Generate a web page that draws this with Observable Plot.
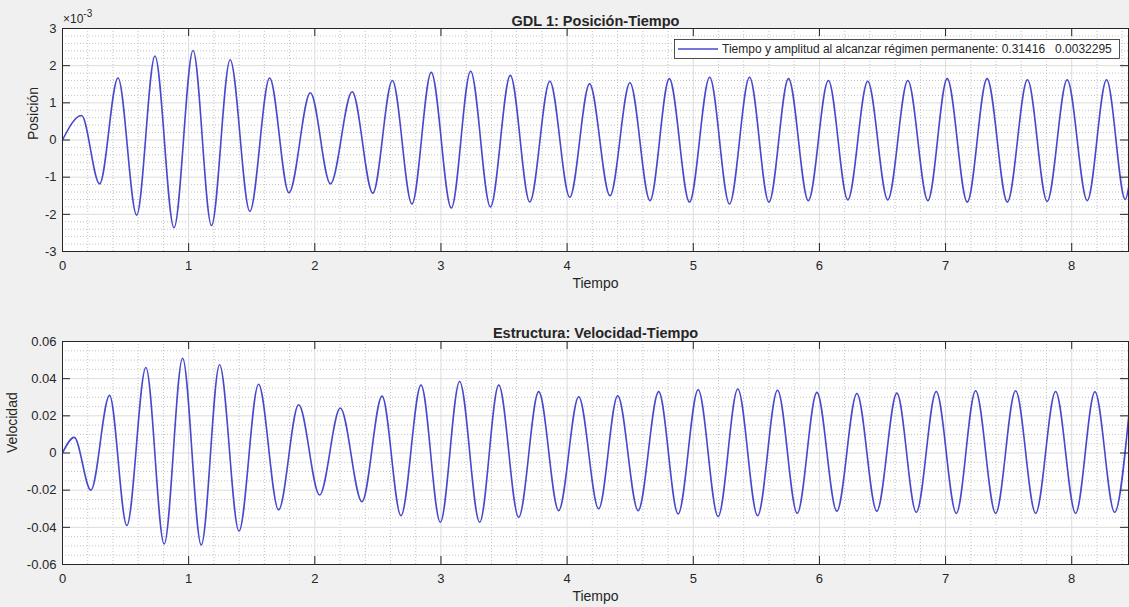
<!DOCTYPE html>
<html><head><meta charset="utf-8">
<script src="https://cdn.jsdelivr.net/npm/d3@7"></script>
<script src="https://cdn.jsdelivr.net/npm/@observablehq/plot@0.6"></script>
<style>
html,body{margin:0;padding:0;background:#f0f0f0;}
#chart{width:1129px;height:607px;position:relative;font-family:"Liberation Sans",Arial,sans-serif;overflow:hidden;}
#chart svg{display:block;}
</style></head><body><div id="chart"></div>
<script>
// ---- Data (extrema of each oscillation) ----
// Position (units of 1e-3)
const posT = [0, 0.151, 0.294, 0.44, 0.588, 0.733, 0.884, 1.035, 1.181, 1.329, 1.485, 1.642, 1.795, 1.965, 2.124, 2.296, 2.46, 2.615, 2.77, 2.923, 3.082, 3.235, 3.392, 3.55, 3.704, 3.863, 4.021, 4.178, 4.34, 4.498, 4.657, 4.81, 4.97, 5.13, 5.287, 5.446, 5.6, 5.755, 5.912, 6.071, 6.225, 6.383, 6.542, 6.701, 6.86, 7.013, 7.172, 7.329, 7.49, 7.649, 7.805, 7.964, 8.123, 8.276, 8.425, 8.455];
const posV = [0, 0.66, -1.18, 1.67, -2.02, 2.26, -2.36, 2.41, -2.3, 2.16, -1.92, 1.67, -1.42, 1.27, -1.18, 1.3, -1.43, 1.6, -1.72, 1.82, -1.83, 1.85, -1.8, 1.74, -1.67, 1.58, -1.54, 1.51, -1.5, 1.54, -1.63, 1.65, -1.67, 1.69, -1.72, 1.69, -1.67, 1.65, -1.63, 1.6, -1.61, 1.58, -1.61, 1.6, -1.63, 1.65, -1.67, 1.65, -1.67, 1.62, -1.65, 1.62, -1.63, 1.62, -1.6, -1.2];
// Velocity
const velT = [0, 0.093, 0.225, 0.373, 0.51, 0.661, 0.806, 0.952, 1.1, 1.245, 1.399, 1.554, 1.713, 1.872, 2.038, 2.202, 2.374, 2.533, 2.683, 2.842, 2.995, 3.148, 3.307, 3.458, 3.616, 3.775, 3.933, 4.092, 4.25, 4.401, 4.563, 4.726, 4.88, 5.039, 5.197, 5.353, 5.51, 5.668, 5.824, 5.98, 6.138, 6.297, 6.455, 6.614, 6.768, 6.926, 7.085, 7.238, 7.397, 7.555, 7.714, 7.872, 8.031, 8.184, 8.34, 8.455];
const velV = [0, 0.0084, -0.02, 0.031, -0.039, 0.046, -0.049, 0.051, -0.0495, 0.0475, -0.042, 0.037, -0.0306, 0.026, -0.0226, 0.0242, -0.0262, 0.0306, -0.0337, 0.0365, -0.0373, 0.0385, -0.0373, 0.0365, -0.0346, 0.033, -0.031, 0.0303, -0.030, 0.0308, -0.031, 0.033, -0.0328, 0.034, -0.0342, 0.0344, -0.0337, 0.0338, -0.0324, 0.0326, -0.0313, 0.032, -0.0313, 0.0322, -0.0319, 0.0331, -0.0324, 0.0335, -0.0324, 0.0335, -0.0324, 0.0331, -0.0324, 0.033, -0.0319, 0.022];

const xTicks = [0, 1, 2, 3, 4, 5, 6, 7, 8];
const posTicks = [-3, -2, -1, 0, 1, 2, 3];
const velTicks = [-0.06, -0.04, -0.02, 0, 0.02, 0.04, 0.06];
const xDomain = [0, 8.45];

const title1 = "GDL 1: Posición-Tiempo";
const title2 = "Estructura: Velocidad-Tiempo";
const xLabel = "Tiempo";
const yLabel1 = "Posición";
const yLabel2 = "Velocidad";
const exponentBase = "×10";
const exponentPower = "-3";
const legendLabel = "Tiempo y amplitud al alcanzar régimen permanente:";
const legendValues = ["0.31416", "0.0032295"];

// ---- Styling ----
const W = 1129, ML = 62, MR = 1, PH = 223, PW = W - ML - MR, TL = 8;
const lineColor = "#4848cc";
const axisColor = "#262626";
const font = "Liberation Sans, Arial, sans-serif";

const xMinor = d3.range(0, 43).filter(i => i % 5 !== 0).map(i => i / 5);
const posMinor = d3.range(-15, 16).filter(i => i % 5 !== 0).map(i => i / 5);
const velMinor = d3.range(-12, 13).filter(i => i % 4 !== 0).map(i => i * 0.005);

function panel({t, v, yDomain, yTicks, yMinor, tickFormat, title, yLabel, yLabelDx, marginTop, marginBottom, titleDy}) {
  const data = t.map((d, i) => ({t: d, v: v[i]}));
  return Plot.plot({
    width: W, height: marginTop + PH + marginBottom,
    marginLeft: ML, marginRight: MR, marginTop, marginBottom,
    style: {background: "transparent", fontFamily: font, fontSize: "13px", color: axisColor, overflow: "visible"},
    x: {domain: xDomain, axis: null},
    y: {domain: yDomain, axis: null},
    marks: [
      Plot.frame({fill: "white", stroke: null}),
      Plot.ruleX(xMinor, {x: d => d, stroke: "#c4c4c4", strokeDasharray: "1,2"}),
      Plot.ruleY(yMinor, {y: d => d, stroke: "#c4c4c4", strokeDasharray: "1,2"}),
      Plot.ruleX(xTicks, {x: d => d, stroke: "#dcdcdc"}),
      Plot.ruleY(yTicks, {y: d => d, stroke: "#dcdcdc"}),
      Plot.line(data, {x: "t", y: "v", curve: "monotone-x", stroke: lineColor, strokeWidth: 1.6, clip: true}),
      Plot.tickX(xTicks, {x: d => d, insetTop: PH - TL, stroke: axisColor}),
      Plot.tickX(xTicks, {x: d => d, insetBottom: PH - TL, stroke: axisColor}),
      Plot.tickY(yTicks, {y: d => d, insetRight: PW - TL, stroke: axisColor}),
      Plot.tickY(yTicks, {y: d => d, insetLeft: PW - TL, stroke: axisColor}),
      Plot.frame({stroke: axisColor, strokeWidth: 1}),
      Plot.axisX(xTicks, {anchor: "bottom", tickSize: 0, tickPadding: 9, label: null, fontSize: 13, tickFormat: d => String(d)}),
      Plot.axisY(yTicks, {anchor: "left", tickSize: 0, tickPadding: 6, label: null, fontSize: 13, tickFormat}),
      Plot.text([xLabel], {text: d => d, frameAnchor: "bottom", dy: 36, fontSize: 14}),
      Plot.text([title], {text: d => d, frameAnchor: "top", dy: titleDy, fontSize: 14.5, fontWeight: "bold"}),
      Plot.text([yLabel], {text: d => d, frameAnchor: "left", dx: yLabelDx, rotate: -90, fontSize: 14})
    ]
  });
}

const svg1 = panel({
  t: posT, v: posV, yDomain: [-3, 3], yTicks: posTicks, yMinor: posMinor,
  tickFormat: d => String(d), title: title1, yLabel: yLabel1, yLabelDx: -29,
  marginTop: 28, marginBottom: 50, titleDy: -13
});
const svg2 = panel({
  t: velT, v: velV, yDomain: [-0.06, 0.06], yTicks: velTicks, yMinor: velMinor,
  tickFormat: d => d === 0 ? "0" : d.toFixed(2), title: title2, yLabel: yLabel2, yLabelDx: -50,
  marginTop: 40, marginBottom: 43, titleDy: -14
});

// Exponent label (×10^-3) above the top-left of the upper axes
const ex = d3.select(svg1).append("text").attr("x", 63).attr("y", 23)
  .attr("font-family", font).attr("font-size", 12).attr("fill", axisColor).attr("text-anchor", "start");
ex.append("tspan").text(exponentBase);
ex.append("tspan").attr("dy", -6).attr("font-size", 10).text(exponentPower);

// Legend (inside top panel)
const lg = d3.select(svg1).append("g").attr("font-family", font).attr("font-size", 12).attr("fill", axisColor);
lg.append("rect").attr("x", 674.5).attr("y", 39.5).attr("width", 445).attr("height", 19)
  .attr("fill", "white").attr("stroke", axisColor).attr("stroke-width", 0.8);
lg.append("line").attr("x1", 678).attr("x2", 718).attr("y1", 49).attr("y2", 49)
  .attr("stroke", lineColor).attr("stroke-width", 1.6);
lg.append("text").attr("x", 722).attr("y", 49).attr("dy", "0.35em").attr("text-anchor", "start")
  .style("white-space", "pre")
  .text(legendLabel + " " + legendValues[0] + "   " + legendValues[1]);

const root = document.getElementById("chart");
root.appendChild(svg1);
root.appendChild(svg2);
</script>
</body></html>
